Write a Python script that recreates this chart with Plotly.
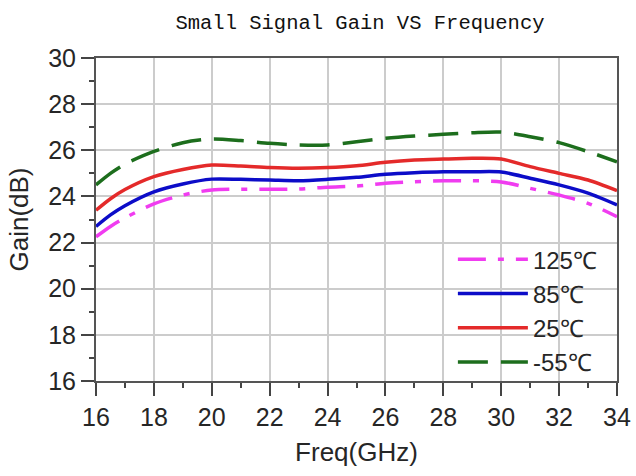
import plotly.graph_objects as go

freq = [16, 16.5, 17, 18, 19, 20, 21, 22, 23, 24, 25, 26, 27, 28, 29, 30, 31, 32, 33, 34]
gain_125 = [22.25, 22.7, 23.07, 23.68, 24.06, 24.28, 24.31, 24.31, 24.32, 24.4, 24.45, 24.57, 24.64, 24.68, 24.68, 24.63, 24.35, 24.06, 23.7, 23.12]
gain_85 = [22.7, 23.2, 23.6, 24.2, 24.54, 24.75, 24.74, 24.71, 24.68, 24.74, 24.83, 24.96, 25.03, 25.07, 25.07, 25.06, 24.79, 24.5, 24.14, 23.63]
gain_25 = [23.4, 23.9, 24.3, 24.86, 25.17, 25.36, 25.32, 25.25, 25.22, 25.25, 25.33, 25.48, 25.58, 25.62, 25.65, 25.62, 25.29, 25.0, 24.71, 24.25]
gain_m55 = [24.5, 25.0, 25.4, 25.95, 26.33, 26.49, 26.42, 26.3, 26.23, 26.23, 26.37, 26.52, 26.62, 26.69, 26.76, 26.79, 26.59, 26.33, 25.94, 25.5]

series = [
    ("125℃", gain_125, "#f03cf0", "28px,12px,6px,12px"),
    ("85℃", gain_85, "#0c0cc8", "solid"),
    ("25℃", gain_25, "#e42a2a", "solid"),
    ("-55℃", gain_m55, "#1d6e1d", "30px,13px"),
]

x_ticks = [16, 18, 20, 22, 24, 26, 28, 30, 32, 34]
y_ticks = [16, 18, 20, 22, 24, 26, 28, 30]

FONT = "Liberation Sans, Arial, sans-serif"

fig = go.Figure()
for i, (name, ys, color, dash) in enumerate(series):
    fig.add_trace(go.Scatter(
        x=freq, y=ys, name=name, mode="lines",
        line=dict(color=color, width=3.5, dash=dash, shape="spline", smoothing=0.8),
        legendgroup=f"g{i}",
    ))

axis_common = dict(
    showline=True, linecolor="#555555", linewidth=2, mirror=True,
    showgrid=True, gridcolor="#cccccc", gridwidth=1.5,
    ticks="outside", ticklen=13, tickwidth=1.5, tickcolor="#444444",
    tickfont=dict(family=FONT, size=25, color="#262626"),
    zeroline=False, automargin=False,
    minor=dict(ticks="outside", ticklen=5, tickwidth=1.5, tickcolor="#444444", dtick=1, showgrid=False),
)

fig.update_xaxes(
    range=[16, 34], tickvals=x_ticks, ticktext=[str(v) for v in x_ticks],
    title=dict(text="Freq(GHz)", font=dict(family=FONT, size=26, color="#262626"), standoff=13),
    **axis_common,
)
fig.update_yaxes(
    range=[16, 30], tickvals=y_ticks, ticktext=[str(v) for v in y_ticks],
    title=dict(text="Gain(dB)", font=dict(family=FONT, size=26, color="#262626"), standoff=12),
    **axis_common,
)

fig.update_layout(
    width=636, height=476,
    margin=dict(l=96, r=19, t=58, b=95, autoexpand=False),
    paper_bgcolor="white", plot_bgcolor="white",
    title=dict(
        text="Small Signal Gain VS Frequency",
        font=dict(family="Liberation Mono, monospace", size=20.5, color="#111111"),
        x=0.566, xanchor="center", y=0.954, yanchor="middle",
    ),
    legend=dict(
        x=0.685, y=0.445, xanchor="left", yanchor="top",
        bgcolor="rgba(0,0,0,0)", borderwidth=0,
        font=dict(family=FONT, size=24, color="#262626"),
        tracegroupgap=0, itemwidth=70,
    ),
    showlegend=True,
)

fig.write_html("out.html")
